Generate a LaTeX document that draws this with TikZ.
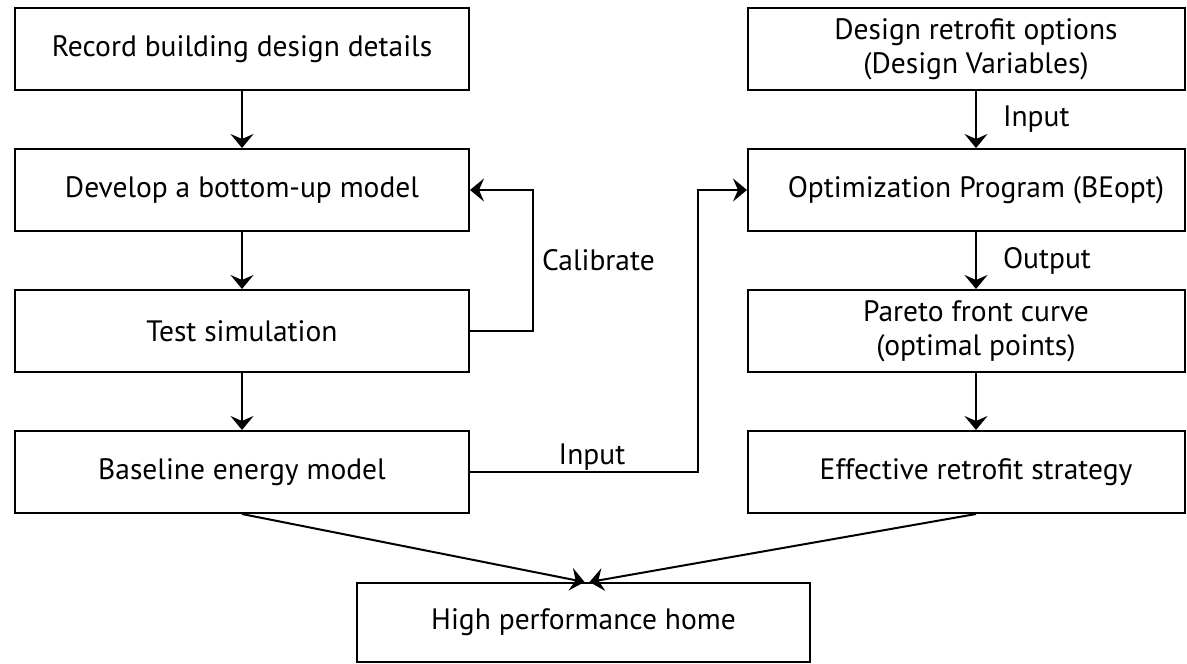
\documentclass[tikz,border=0pt]{standalone}
\usepackage{fontspec}
\setmainfont{PT Sans}
\usetikzlibrary{arrows.meta,calc}
\tikzset{
  box/.style={draw,line width=2pt,minimum width=454pt,minimum height=82pt,inner sep=0pt,font=\fontsize{29.5}{34}\selectfont,align=center},
  rbox/.style={box,minimum width=437pt},
  lbl/.style={font=\fontsize{29.5}{34}\selectfont,inner sep=0pt,align=center},
  arr/.style={-{Stealth[length=14pt,width=23pt,inset=5pt]},line width=2pt},
}

\begin{document}
\begin{tikzpicture}[x=1pt,y=-1pt]
\useasboundingbox (0,0) rectangle (1187,664);
% left column
\node[box] (rec) at (242,49) {Record building design details};
\node[box] (dev) at (242,190) {Develop a bottom-up model};
\node[box] (tst) at (242,331) {Test simulation};
\node[box] (base) at (242,472) {Baseline energy model};
% right column, text sits a little right of the box centre
\node[rbox,label={[lbl,xshift=9.5pt]center:Design retrofit options\\(Design Variables)}] (opts) at (966.5,49) {};
\node[rbox,label={[lbl,xshift=9.5pt]center:Optimization Program (BEopt)}] (bopt) at (966.5,190) {};
\node[rbox,label={[lbl,xshift=9.5pt]center:Pareto front curve\\(optimal points)}] (pareto) at (966.5,331) {};
\node[rbox,label={[lbl,xshift=9.5pt]center:Effective retrofit strategy}] (eff) at (966.5,472) {};
% result
\node[box,minimum width=453pt,minimum height=79pt] (home) at (583.5,622.5) {High performance home};

\foreach \a/\b in {rec/dev,dev/tst,tst/base}{\draw[arr] (\a.south) -- (\b.north);}
\draw[arr] ([xshift=9.5pt]opts.south) -- node[lbl,right,xshift=26pt]{Input} ([xshift=9.5pt]bopt.north);
\draw[arr] ([xshift=9.5pt]bopt.south) -- node[lbl,right,xshift=26pt]{Output} ([xshift=9.5pt]pareto.north);
\draw[arr] ([xshift=9.5pt]pareto.south) -- ([xshift=9.5pt]eff.north);

\draw[arr] (tst.east) -- ++(63,0) |- node[lbl,right,pos=0.25,xshift=8pt]{Calibrate} (dev.east);
\draw[arr] (base.east) -- node[lbl,above,inner sep=1pt,xshift=8pt]{Input} ++(228,0) |- (bopt.west);

\draw[arr] (base.south) -- ([xshift=1pt]home.north);
\draw[arr] ([xshift=9.5pt]eff.south) -- ([xshift=6pt]home.north);
\end{tikzpicture}
\end{document}
